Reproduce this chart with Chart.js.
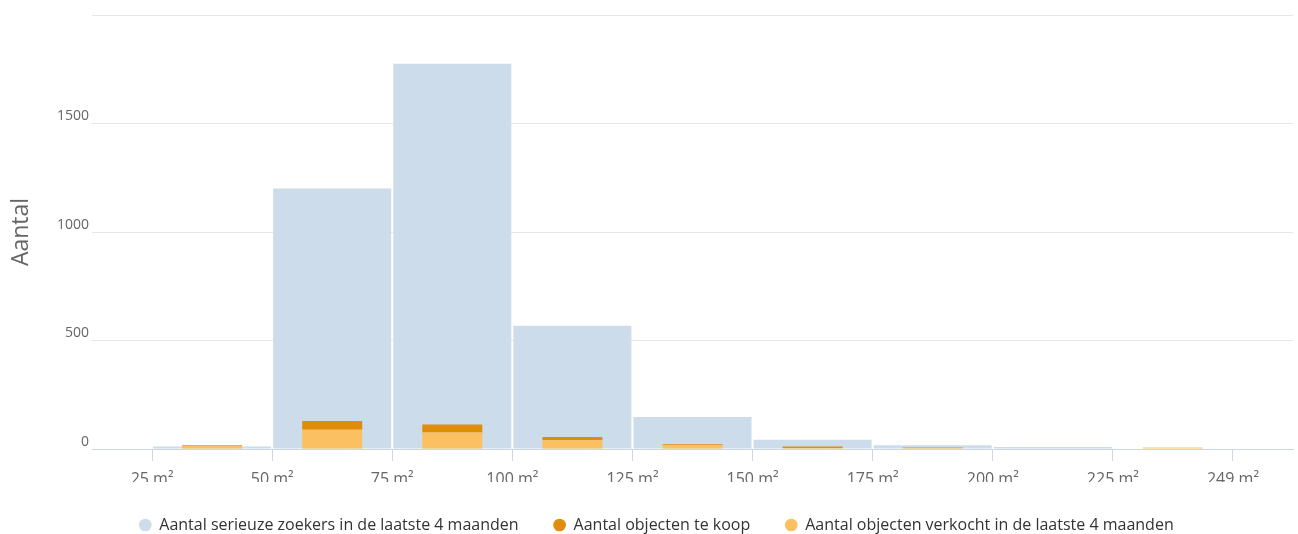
<!DOCTYPE html>
<html>
<head>
<meta charset="utf-8">
<script src="https://cdn.jsdelivr.net/npm/chart.js@4"></script>
<style>
  html, body { margin: 0; padding: 0; background: #fff; }
  #wrap { width: 1298px; height: 534px; }
</style>
</head>
<body>
<div id="wrap"><canvas id="myChartSize"></canvas></div>
<script>
// Tick labels on the bin edges, one bar per bin in between
const sizeLabels = ["25 m²", "50 m²", "75 m²", "100 m²", "125 m²", "150 m²", "175 m²", "200 m²", "225 m²", "249 m²"];
const zoekers = [12, 1200, 1775, 568, 147, 43, 17, 9, 2];
const teKoop = [3, 40, 37, 15, 3, 6, 2, 0, 1];
const verkocht = [15, 89, 76, 40, 19, 5, 6, 0, 5];
const yMax = 2000;

// bins sit between two edge ticks (x = i + 0.5)
function toBins(values) {
  return values.map((v, i) => ({ x: i + 0.5, y: v }));
}

const legendRank = [0, 2, 1]; // legend shows "te koop" before "verkocht"
const fontName = "'Open Sans', sans-serif";

// nudge the legend row a bit to the right of the canvas centre
const legendShift = {
  id: "legendShift",
  afterLayout(chart) {
    chart.legend.left += 10;
    chart.legend.right += 10;
  },
};

const ctx = document.getElementById("myChartSize").getContext("2d");
const sizeChart = new Chart(ctx, {
  type: "bar",
  data: {
    datasets: [
      {
        label: "Aantal serieuze zoekers in de laatste 4 maanden",
        data: toBins(zoekers),
        backgroundColor: "#cddceb",
        stack: "zoekers",
        order: 1,
        grouped: false,
        categoryPercentage: 1,
        barPercentage: 0.983,
      },
      {
        label: "Aantal objecten verkocht in de laatste 4 maanden",
        data: toBins(verkocht),
        backgroundColor: "#fac061",
        stack: "objecten",
        order: 0,
        grouped: false,
        categoryPercentage: 1,
        barPercentage: 0.5,
      },
      {
        label: "Aantal objecten te koop",
        data: toBins(teKoop),
        backgroundColor: "#e08d0c",
        stack: "objecten",
        order: 0,
        grouped: false,
        categoryPercentage: 1,
        barPercentage: 0.5,
      },
    ],
  },
  plugins: [legendShift],
  options: {
    responsive: true,
    maintainAspectRatio: false,
    animation: false,
    layout: { padding: { top: 15, right: 5, bottom: 0, left: 0 } },
    plugins: {
      tooltip: { enabled: false },
      legend: {
        position: "bottom",
        maxHeight: 52,
        labels: {
          usePointStyle: true,
          pointStyle: "circle",
          boxWidth: 12,
          boxHeight: 9,
          padding: 35,
          color: "#333",
          font: { family: fontName, size: 16 },
          sort: (a, b) => legendRank[a.datasetIndex] - legendRank[b.datasetIndex],
        },
      },
    },
    scales: {
      x: {
        type: "linear",
        offset: false,
        min: -0.5,
        max: sizeLabels.length - 0.5,
        afterBuildTicks: (scale) => {
          scale.ticks = sizeLabels.map((l, i) => ({ value: i }));
        },
        afterFit: (scale) => {
          scale.height = 33; // labels may hang into the legend gap
        },
        grid: {
          offset: false,
          drawOnChartArea: false,
          drawTicks: true,
          tickLength: 12,
          tickColor: "#ccd6eb",
        },
        border: { color: "#ccd6eb" },
        ticks: {
          autoSkip: false,
          maxRotation: 0,
          padding: 9,
          color: "#666",
          font: { family: fontName, size: 16 },
          callback: (value, index) => sizeLabels[index],
        },
      },
      y: {
        stacked: true,
        min: 0,
        max: yMax,
        afterFit: (scale) => {
          scale.width = 92;
        },
        grid: { color: "#e6e6e6", drawTicks: false },
        border: { display: false },
        title: {
          display: true,
          text: "Aantal",
          color: "#666",
          font: { family: fontName, size: 23 },
          padding: { top: 8, bottom: 0 },
        },
        ticks: {
          stepSize: 500,
          padding: 3,
          labelOffset: -7,
          color: "#666",
          font: { family: fontName, size: 14 },
          //top gridline keeps no label
          callback: function (value) {
            return value === yMax ? "" : value;
          },
        },
      },
    },
  },
});
</script>
</body>
</html>
